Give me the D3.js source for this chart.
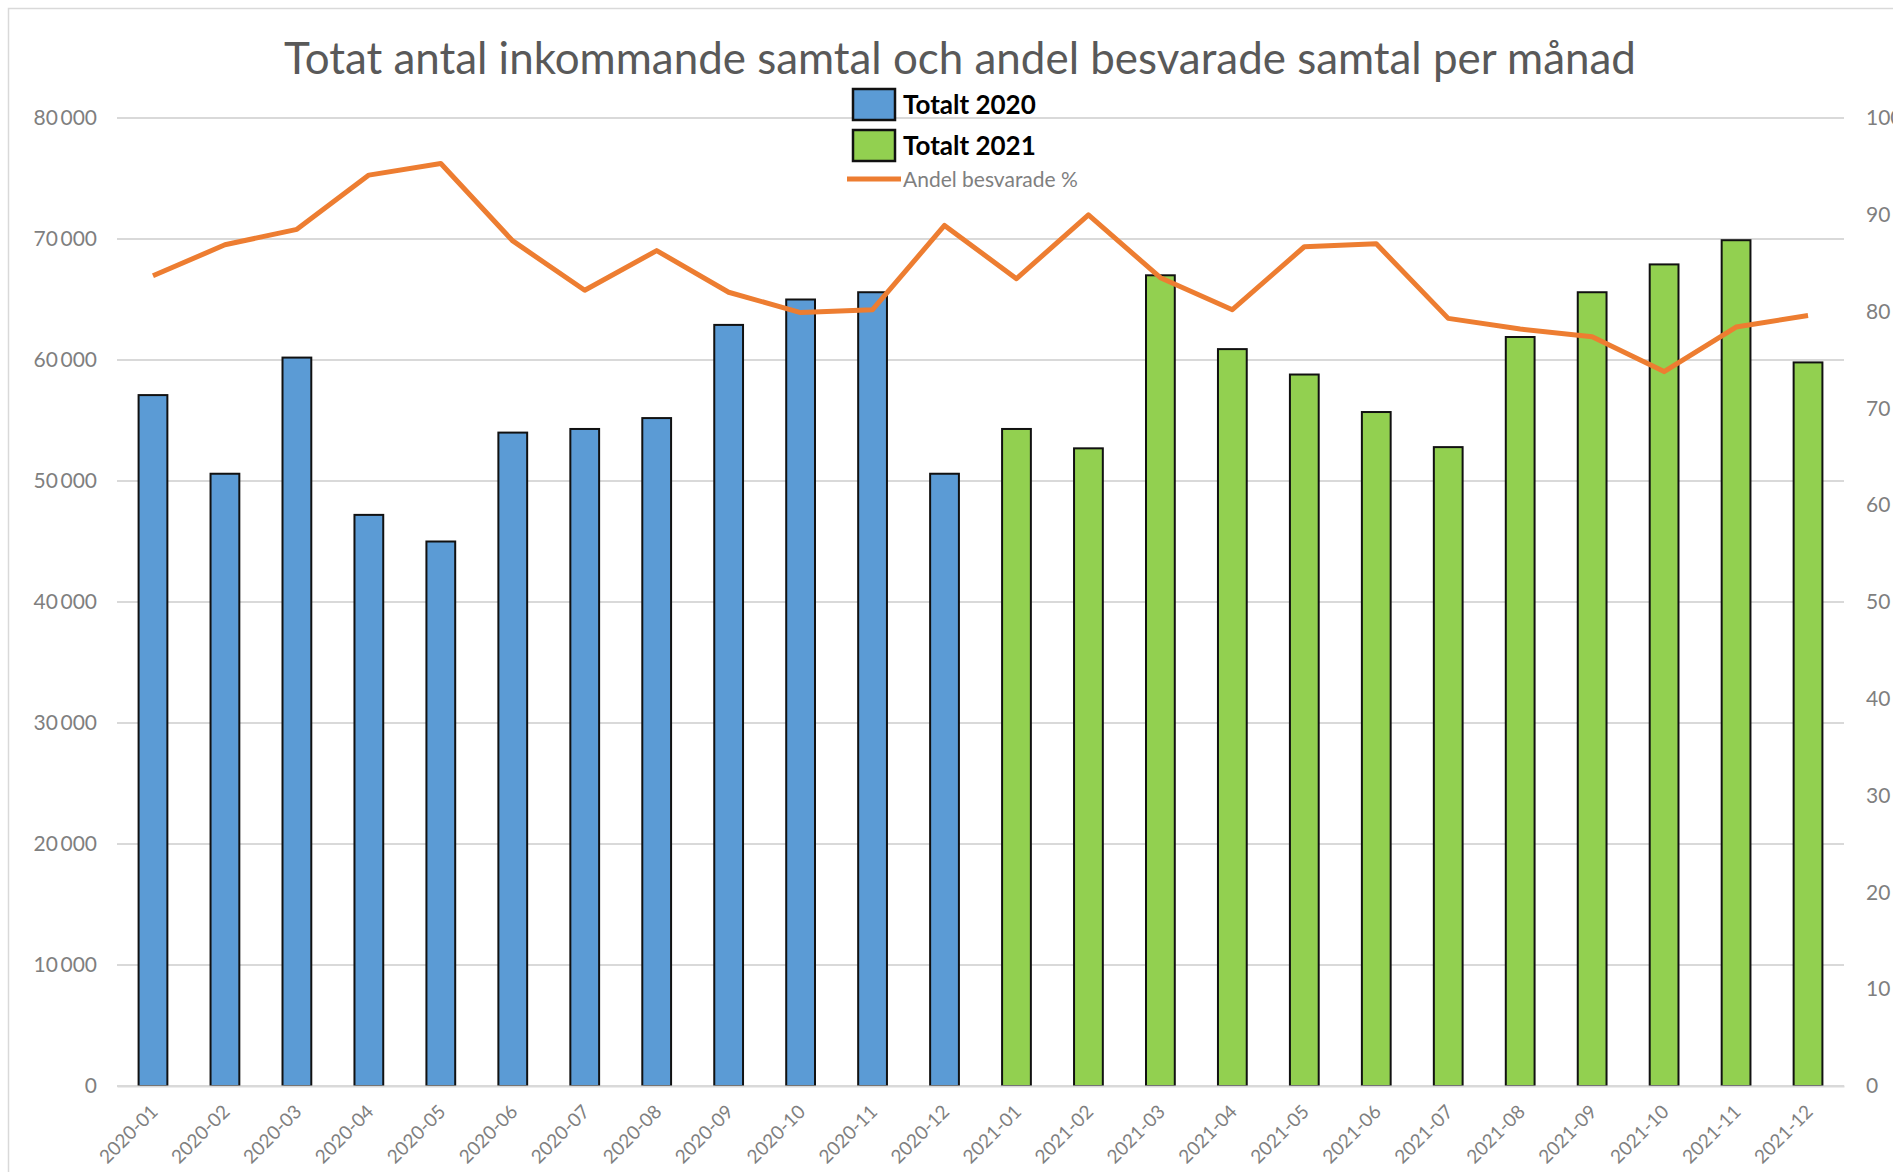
<!DOCTYPE html>
<html>
<head>
<meta charset="utf-8">
<script src="https://cdn.jsdelivr.net/npm/d3@7"></script>
<style>
  body { margin: 0; background: #fff; }
  svg { display: block; }
</style>
</head>
<body>
<svg id="chart" width="1893" height="1172"></svg>
<script>
// months and values
const months = ["2020-01","2020-02","2020-03","2020-04","2020-05","2020-06","2020-07","2020-08","2020-09","2020-10","2020-11","2020-12",
                "2021-01","2021-02","2021-03","2021-04","2021-05","2021-06","2021-07","2021-08","2021-09","2021-10","2021-11","2021-12"];
const calls = [57100, 50600, 60200, 47200, 45000, 54000, 54300, 55200, 62900, 65000, 65600, 50600,
               54300, 52700, 67000, 60900, 58800, 55700, 52800, 61900, 65600, 67900, 69900, 59800];
const answeredPct = [83.7, 86.9, 88.5, 94.1, 95.3, 87.3, 82.2, 86.3, 82.0, 79.9, 80.2, 88.9,
                     83.4, 90.0, 83.5, 80.2, 86.7, 87.0, 79.3, 78.2, 77.4, 73.8, 78.4, 79.6];
const leftTicks = [0, 10000, 20000, 30000, 40000, 50000, 60000, 70000, 80000];
const rightTicks = [0, 10, 20, 30, 40, 50, 60, 70, 80, 90, 100];

const svg = d3.select("#chart");
const font = "Lato, 'Open Sans', sans-serif";

// plot area
const margin = { top: 118, right: 49, bottom: 86, left: 117 };
const width = 1893, height = 1172;
const innerW = width - margin.left - margin.right;
const innerH = height - margin.top - margin.bottom;

// chart frame (reference is cropped on right and bottom)
svg.append("rect")
    .attr("x", 8.5).attr("y", 8.5)
    .attr("width", width).attr("height", height)
    .attr("fill", "none").attr("stroke", "#d9d9d9").attr("stroke-width", 1.5);

const g = svg.append("g").attr("transform", `translate(${margin.left},${margin.top})`);

const x = d3.scaleBand().domain(months).range([0, innerW]).paddingInner(0.6).paddingOuter(0.3);
const y = d3.scaleLinear().domain([0, 80000]).range([innerH, 0]);
const y2 = d3.scaleLinear().domain([0, 100]).range([innerH, 0]);

const locale = d3.formatLocale({ decimal: ",", thousands: "\u2009", grouping: [3], currency: ["", " kr"] });
const fmt = locale.format(",d");

// gridlines
g.append("g")
    .selectAll("line")
    .data(leftTicks)
    .join("line")
    .attr("x1", 0).attr("x2", innerW)
    .attr("y1", d => y(d)).attr("y2", d => y(d))
    .attr("stroke", "#d9d9d9").attr("stroke-width", 2);

// left axis
const leftAxis = g.append("g")
    .call(d3.axisLeft(y).tickValues(leftTicks).tickFormat(fmt).tickSize(0).tickPadding(20));
leftAxis.select(".domain").remove();
leftAxis.selectAll("text")
    .attr("font-family", font).attr("font-size", 21).attr("fill", "#7f7f7f");

// right axis
const rightAxis = g.append("g")
    .attr("transform", `translate(${innerW},0)`)
    .call(d3.axisRight(y2).tickValues(rightTicks).tickSize(0).tickPadding(22));
rightAxis.select(".domain").remove();
rightAxis.selectAll("text")
    .attr("font-family", font).attr("font-size", 21).attr("fill", "#7f7f7f");

// bars
g.append("g")
    .selectAll("rect")
    .data(months)
    .join("rect")
    .attr("x", d => x(d))
    .attr("y", (d, i) => y(calls[i]))
    .attr("width", x.bandwidth())
    .attr("height", (d, i) => innerH - y(calls[i]))
    .attr("fill", d => d.startsWith("2020") ? "#5b9bd5" : "#92d050")
    .attr("stroke", "#111").attr("stroke-width", 2);

// bottom axis, labels tilted 45 degrees
const bottomAxis = g.append("g")
    .attr("transform", `translate(0,${innerH})`)
    .call(d3.axisBottom(x).tickSize(0));
bottomAxis.select(".domain").attr("stroke", "#d9d9d9").attr("stroke-width", 2);
bottomAxis.selectAll("text")
    .attr("font-family", font).attr("font-size", 19).attr("fill", "#7f7f7f")
    .attr("text-anchor", "end")
    .attr("x", 0).attr("y", 0).attr("dy", 0)
    .attr("transform", "translate(6,27) rotate(-45)");

// answered share line
const line = d3.line()
    .x((d, i) => x(months[i]) + x.bandwidth() / 2)
    .y(d => y2(d));
g.append("path")
    .datum(answeredPct)
    .attr("d", line)
    .attr("fill", "none")
    .attr("stroke", "#ed7d31")
    .attr("stroke-width", 5)
    .attr("stroke-linejoin", "round");

// title
const title = svg.append("text")
    .attr("x", 960).attr("y", 74)
    .attr("text-anchor", "middle")
    .attr("font-family", font)
    .attr("font-size", 38)
    .attr("fill", "#595959")
    .text("Totat antal inkommande samtal och andel besvarade samtal per månad");
const tw = title.node().getComputedTextLength();
title.attr("font-size", 38 * 1352 / tw);

// legend
const legend = svg.append("g");
const boxes = [
    { label: "Totalt 2020", color: "#5b9bd5", y: 89 },
    { label: "Totalt 2021", color: "#92d050", y: 130 }
];
boxes.forEach(b => {
    legend.append("rect")
        .attr("x", 853).attr("y", b.y)
        .attr("width", 42).attr("height", 31)
        .attr("fill", b.color).attr("stroke", "#111").attr("stroke-width", 2.5);
    legend.append("text")
        .attr("x", 903).attr("y", b.y + 16)
        .attr("dy", "0.36em")
        .attr("font-family", font).attr("font-size", 26).attr("font-weight", "bold")
        .attr("fill", "#000")
        .text(b.label);
});
legend.append("line")
    .attr("x1", 847).attr("x2", 901).attr("y1", 179).attr("y2", 179)
    .attr("stroke", "#ed7d31").attr("stroke-width", 5);
legend.append("text")
    .attr("x", 903).attr("y", 179)
    .attr("dy", "0.36em")
    .attr("font-family", font).attr("font-size", 21)
    .attr("fill", "#7f7f7f")
    .text("Andel besvarade %");
</script>
</body>
</html>
